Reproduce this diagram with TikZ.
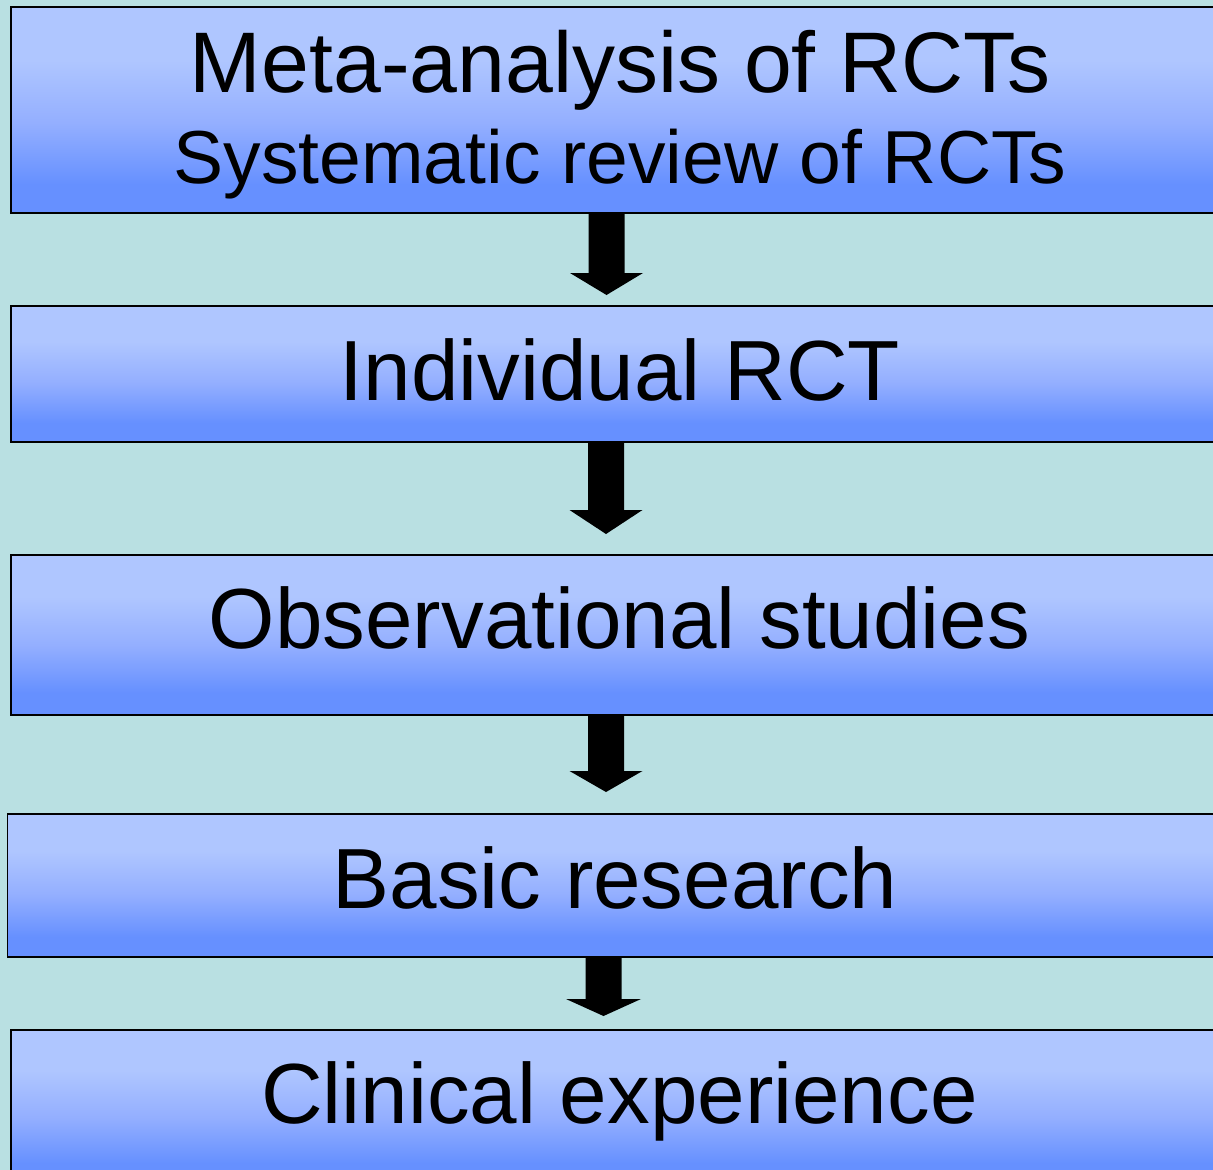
\documentclass[tikz,border=0pt]{standalone}
\usepackage{fontspec}
\setmainfont{Liberation Sans}
\usetikzlibrary{calc}

\definecolor{bgteal}{HTML}{B9E0E2}
\definecolor{boxtop}{HTML}{AFC6FF}
\definecolor{boxmid}{HTML}{94AFFF}
\definecolor{boxbot}{HTML}{6690FF}

% light upper part, fading to a deeper blue towards the bottom edge
\pgfdeclareverticalshading{boxfade}{100bp}{color(0bp)=(boxbot); color(32bp)=(boxbot); color(47bp)=(boxmid); color(62bp)=(boxtop); color(100bp)=(boxtop)}

% block arrow from the lower edge of a box down to a tip coordinate
% #1 start coordinate, #2 tip coordinate, #3 head length, #4 head half-width
\newcommand\blockdown[4]{%
  \fill[blockarrow] ($(#1)+(-18,0)$) -- ($(#2)+(-18,-#3)$) -- ($(#2)+(-#4,-#3)$)
    -- (#2) -- ($(#2)+(#4,-#3)$) -- ($(#2)+(18,-#3)$) -- ($(#1)+(18,0)$) -- cycle;}

\begin{document}
\begin{tikzpicture}[x=1pt,y=-1pt,
  level/.style={rectangle, draw=black, line width=1.6pt, shade, shading=boxfade,
    inner sep=0pt, outer sep=0pt, minimum width=1219pt},
  caption/.style={anchor=base, inner sep=0pt, font=\fontsize{85.4}{100}\selectfont},
  headcaption/.style={caption, font=\fontsize{86}{100}\selectfont},
  subcaption/.style={caption, font=\fontsize{75.1}{90}\selectfont},
  blockarrow/.style={fill=black}]

\useasboundingbox (0,0) rectangle (1213,1170);
\clip (0,0) rectangle (1213,1170);
\fill[bgteal] (0,0) rectangle (1213,1170);

% levels of evidence
\node[level, minimum height=206pt] (box1) at (620.5,110) {};
\node[level, minimum height=136pt] (box2) at (620.5,374) {};
\node[level, minimum height=160pt] (box3) at (620.5,635) {};
\node[level, minimum height=143pt] (box4) at (617,885.5) {};
\node[level, minimum height=155pt] (box5) at (620.5,1107.5) {};

% labels
\node[headcaption] (t1a) at (620,92) {Meta-analysis of RCTs};
\node[subcaption] (t1b) at (620,183) {Systematic review of RCTs};
\node[caption] (t2) at (620,400) {Individual RCT};
\node[caption] (t3) at (619.5,648) {Observational studies};
\node[caption] (t4) at (615,908) {Basic research};
\node[caption] (t5) at (619.5,1123) {Clinical experience};

% arrow tips
\coordinate (tip1) at (606.5,295);
\coordinate (tip2) at (606,534);
\coordinate (tip3) at (606,792);
\coordinate (tip4) at (603.5,1016);

% arrow starts on the lower box edges
\coordinate (s1) at (tip1 |- box1.south);
\coordinate (s2) at (tip2 |- box2.south);
\coordinate (s3) at (tip3 |- box3.south);
\coordinate (s4) at (tip4 |- box4.south);

\blockdown{s1}{tip1}{22}{36.5}
\blockdown{s2}{tip2}{24}{36.5}
\blockdown{s3}{tip3}{21}{36.5}
\blockdown{s4}{tip4}{17}{37.5}
\end{tikzpicture}
\end{document}
